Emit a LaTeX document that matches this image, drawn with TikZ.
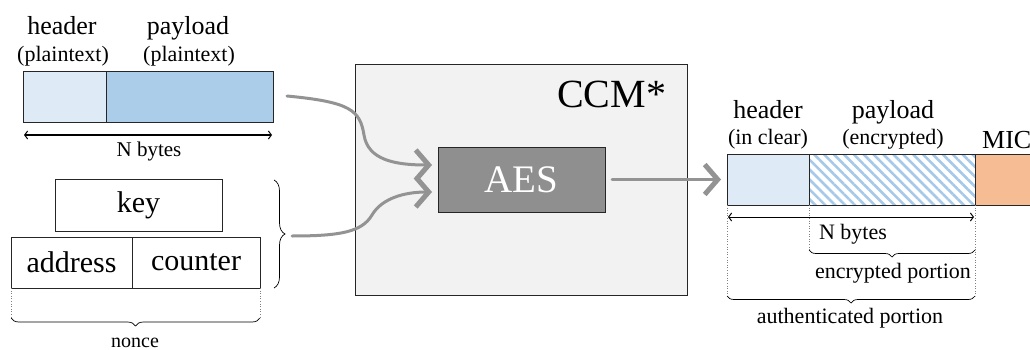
\documentclass[tikz,border=0pt]{standalone}
\usepackage{fontspec}
\setmainfont{LiberationSerif-Regular.ttf}
\newfontfamily\tms{LiberationSerif-Regular.ttf}
\usetikzlibrary{arrows.meta,decorations.pathreplacing,patterns.meta,calc}
\definecolor{hdrc}{HTML}{DEEBF7}
\definecolor{plc}{HTML}{ABCDEA}
\definecolor{micc}{HTML}{F6BD94}
\definecolor{ccmc}{HTML}{F2F2F2}
\definecolor{aesc}{HTML}{8F8F8F}
\definecolor{arrc}{HTML}{939393}
\definecolor{hatc}{HTML}{A6C9E9}
\newcommand{\fs}[1]{\tms\fontsize{#1}{#1}\selectfont}
\begin{document}
\begin{tikzpicture}[x=1pt,y=-1pt,
 box/.style={draw=black!85, line width=0.9pt, inner sep=0pt, outer sep=0pt},
 garrow/.style={draw=arrc, line width=3pt, line cap=round, -{Straight Barb[length=13pt,width=30pt,line width=5pt]}},
 dimarrow/.style={line width=1pt, {Straight Barb[length=3pt,width=8pt]}-{Straight Barb[length=3pt,width=8pt]}},
 dotline/.style={draw=black!50, dotted, line width=0.6pt},
 brc/.style={decorate, decoration={brace, amplitude=7pt}, line width=0.7pt},
 lbl/.style={inner sep=0pt, anchor=base}]
\useasboundingbox (0,0) rectangle (1030,350);

% CCM box
\node[box, fill=ccmc, minimum width=332pt, minimum height=231pt] (ccm) at (521,179.5) {};
\node[lbl, anchor=base west, font=\fs{40}] (ccmt) at (557,108) {CCM*};
\node[box, fill=aesc, minimum width=167pt, minimum height=65pt, text=white, font=\fs{39}] (aes) at (521.5,179.5) {AES};

% left packet
\node[box, fill=hdrc, minimum width=83pt, minimum height=51pt] (h1) at (64.5,96.5) {};
\node[box, fill=plc, minimum width=167pt, minimum height=51pt] (p1) at (189.5,96.5) {};
\node[lbl, font=\fs{26}] (h1a) at (62,35) {header};
\node[lbl, font=\fs{22}] (h1b) at (63,62) {(plaintext)};
\node[lbl, font=\fs{26}] (p1a) at (188,35) {payload};
\node[lbl, font=\fs{22}] (p1b) at (189,62) {(plaintext)};
\coordinate (n1l) at (24,135);
\coordinate (n1r) at (272,135);
\draw[dimarrow] (n1l) -- (n1r);
\node[lbl, font=\fs{21}] (n1t) at (149,157) {N bytes};

% key / nonce
\node[box, minimum width=167pt, minimum height=52pt, font=\fs{30}] (key) at (138.5,205) {key};
\node[box, minimum width=121pt, minimum height=51pt, font=\fs{30}] (addr) at (71.5,262.5) {address};
\node[box, minimum width=128pt, minimum height=51pt, font=\fs{30}] (ctr) at (196,262.5) {counter};
\coordinate (nb1) at (11,318);
\coordinate (nb2) at (260,318);
\draw[dotline] (addr.south west) -- (nb1);
\draw[dotline] (ctr.south east) -- (nb2);
\draw[brc, decoration={amplitude=8pt}] (nb2) -- (nb1);
\node[lbl, font=\fs{20}] (nonce) at (135,347) {nonce};
\coordinate (kb1) at (274,180);
\coordinate (kb2) at (274,288);
\draw[brc, decoration={amplitude=11pt}] (kb1) -- (kb2);

% input arrows
\coordinate (a1s) at (287,96);
\coordinate (a2s) at (292,236);
\draw[garrow, shorten >=6pt] (a1s) .. controls (350,102) and (360,110) .. (364,135)
   .. controls (368,160) and (395,165) .. ($(aes.west)+(0,-14.5)$);
\draw[garrow, shorten >=6pt] (a2s) .. controls (340,236) and (362,232) .. (372,215)
   .. controls (382,198) and (405,192) .. ($(aes.west)+(0,12.5)$);

% right packet
\node[box, fill=hdrc, minimum width=82pt, minimum height=51pt] (h2) at (768,179.5) {};
\node[box, fill=white, minimum width=166pt, minimum height=51pt] (p2bg) at (892,179.5) {};
\node[box, pattern={Lines[angle=-45,distance=7pt,line width=2.6pt]}, pattern color=hatc, minimum width=166pt, minimum height=51pt] (p2) at (892,179.5) {};
\node[box, fill=micc, minimum width=70pt, minimum height=51pt] (mic) at (1010,179.5) {};
\node[lbl, font=\fs{26}] (h2a) at (768,118) {header};
\node[lbl, font=\fs{22}] (h2b) at (768,144) {(in clear)};
\node[lbl, font=\fs{26}] (p2a) at (893,118) {payload};
\node[lbl, font=\fs{22}] (p2b) at (893,144) {(encrypted)};
\node[lbl, anchor=base west, font=\fs{26}] (mict) at (982,148) {MIC};

\draw[garrow, shorten <=7pt, shorten >=6pt] (aes.east) -- (h2.west);

\coordinate (n2l) at (728,217);
\coordinate (n2r) at (974,217);
\draw[dimarrow] (n2l) -- (n2r);
\node[lbl, font=\fs{22}] (n2t) at (853,239) {N bytes};

\coordinate (eb1) at (809,250);
\coordinate (eb2) at (975,250);
\coordinate (ab1) at (727,296);
\coordinate (ab2) at (975,296);
\draw[dotline] (p2.south west) -- (eb1);
\draw[dotline] (p2.south east) -- (ab2);
\draw[dotline] (h2.south west) -- (ab1);
\draw[brc] (eb2) -- (eb1);
\draw[brc] (ab2) -- (ab1);
\node[lbl, font=\fs{22}] (enc) at (893,278) {encrypted portion};
\node[lbl, font=\fs{22}] (auth) at (850,323) {authenticated portion};
\end{tikzpicture}
\end{document}
